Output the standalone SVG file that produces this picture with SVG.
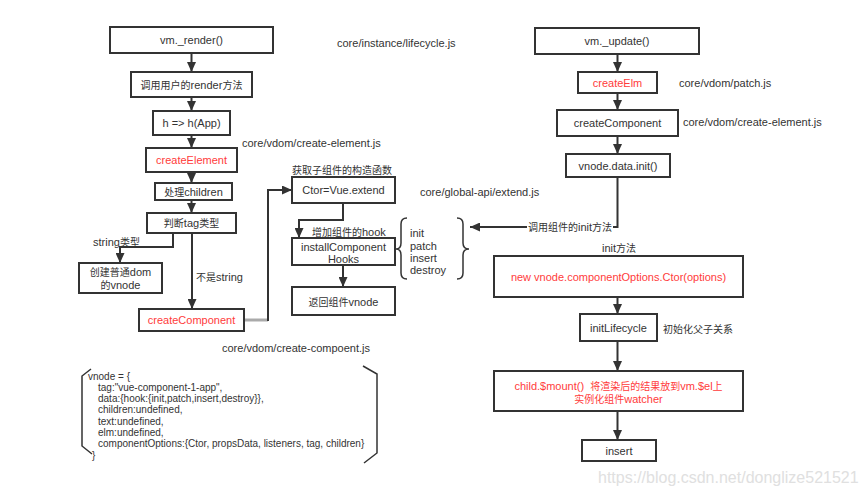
<svg xmlns="http://www.w3.org/2000/svg" width="864" height="495" viewBox="0 0 864 495">
<style>
text{font-family:"Liberation Sans","Noto Sans CJK SC",sans-serif;font-size:11px;fill:#333}
.z{font-size:10px}
.c{text-anchor:middle}
.red{fill:#ff3b3b}
.box{fill:#fff;stroke:#333;stroke-width:2}
.ln{fill:none;stroke:#333;stroke-width:2}
.br{fill:none;stroke:#333;stroke-width:1.5}
.code{font-size:10px}
.wm{font-size:16px;fill:#e0e0e0}
</style>
<defs>
<marker id="ah" markerUnits="userSpaceOnUse" markerWidth="10" markerHeight="9" refX="10" refY="4.5" orient="auto">
<path d="M0,0 L10,4.5 L0,9 z" fill="#333"/>
</marker>
</defs>
<rect width="864" height="495" fill="#fff"/>

<g id="connectors">
<path class="ln" d="M191.5,53 V72" marker-end="url(#ah)"/>
<path class="ln" d="M191.5,97 V111" marker-end="url(#ah)"/>
<path class="ln" d="M191.5,135 V148" marker-end="url(#ah)"/>
<path class="ln" d="M191.5,172 V183" marker-end="url(#ah)"/>
<path class="ln" d="M191.5,200 V213" marker-end="url(#ah)"/>
<path class="ln" d="M173,233 V247 H120 V263" marker-end="url(#ah)"/>
<path class="ln" d="M192,233 V309" marker-end="url(#ah)"/>
<path d="M244,320 H268" fill="none" stroke="#aaa" stroke-width="3"/>
<path class="ln" d="M268,321 V190 H292" marker-end="url(#ah)"/>
<path class="ln" d="M343,203 V220 H299 V238" marker-end="url(#ah)"/>
<path class="ln" d="M343,265 V287" marker-end="url(#ah)"/>
<path class="ln" d="M617.5,54 V72" marker-end="url(#ah)"/>
<path class="ln" d="M617.5,93 V110" marker-end="url(#ah)"/>
<path class="ln" d="M617.5,136 V154" marker-end="url(#ah)"/>
<path class="ln" d="M617.5,177 V227 H470" marker-end="url(#ah)"/>
<path class="ln" d="M617.5,297 V314" marker-end="url(#ah)"/>
<path class="ln" d="M617.5,341 V371" marker-end="url(#ah)"/>
<path class="ln" d="M617.5,411 V440" marker-end="url(#ah)"/>
<rect x="527" y="220" width="86" height="14" fill="#fff"/>
<text x="528" y="231"><tspan class="z">调用组件的</tspan>init<tspan class="z">方法</tspan></text>
<text x="93" y="246">string<tspan class="z">类型</tspan></text>
<text x="196" y="281"><tspan class="z">不是</tspan>string</text>
<text x="312" y="236"><tspan class="z">增加组件的</tspan>hook</text>
</g>

<g id="n-render"><rect class="box" x="110" y="27" width="163" height="26"/><text class="c" x="191.5" y="44">vm._render()</text></g>
<g id="n-userrender"><rect class="box" x="131" y="72" width="121" height="25"/><text class="c" x="191.5" y="88.5"><tspan class="z">调用用户的</tspan>render<tspan class="z">方法</tspan></text></g>
<g id="n-happ"><rect class="box" x="153" y="111" width="77" height="24"/><text class="c" x="191.5" y="127">h =&gt; h(App)</text></g>
<g id="n-createElement"><rect class="box" x="146" y="148" width="91" height="24"/><text class="c red" x="191.5" y="164">createElement</text></g>
<g id="n-children"><rect class="box" x="155" y="183" width="77" height="17"/><text class="c" x="193.5" y="195.5"><tspan class="z">处理</tspan>children</text></g>
<g id="n-tagtype"><rect class="box" x="147" y="213" width="89" height="20"/><text class="c" x="191.5" y="227"><tspan class="z">判断</tspan>tag<tspan class="z">类型</tspan></text></g>
<g id="n-dom"><rect class="box" x="79" y="263" width="83" height="30"/><text class="c" x="120.5" y="276"><tspan class="z">创建普通</tspan>dom</text><text class="c" x="120.5" y="289"><tspan class="z">的</tspan>vnode</text></g>
<g id="n-createComponentL"><rect class="box" x="139" y="309" width="105" height="22"/><text class="c red" x="191.5" y="324">createComponent</text></g>

<g id="n-ctor"><rect class="box" x="292" y="177" width="103" height="26"/><text class="c" x="343.5" y="194">Ctor=Vue.extend</text></g>
<g id="n-install"><rect class="box" x="292" y="238" width="103" height="27"/><text class="c" x="343.5" y="251">installComponent</text><text class="c" x="343.5" y="263">Hooks</text></g>
<g id="n-return"><rect class="box" x="292" y="287" width="103" height="28"/><text class="c" x="343.5" y="306"><tspan class="z">返回组件</tspan>vnode</text></g>
<g id="n-hooks">
<path class="br" d="M407,218 Q401,218 401,224 L401,243 Q401,249 396,249 Q401,249 401,255 L401,273 Q401,279 407,279"/>
<path class="br" d="M457,218 Q463,218 463,224 L463,243 Q463,249 469,249 Q463,249 463,255 L463,273 Q463,279 457,279"/>
<text x="410" y="237">init</text>
<text x="410" y="250">patch</text>
<text x="410" y="262">insert</text>
<text x="410" y="274">destroy</text>
</g>

<g id="labels">
<text x="337" y="47">core/instance/lifecycle.js</text>
<text x="242" y="147">core/vdom/create-element.js</text>
<text class="c z" x="342" y="174">获取子组件的构造函数</text>
<text x="420" y="196">core/global-api/extend.js</text>
<text x="222" y="352">core/vdom/create-compoent.js</text>
<text x="679" y="87">core/vdom/patch.js</text>
<text x="683" y="126">core/vdom/create-element.js</text>
<text x="602" y="252">init<tspan class="z">方法</tspan></text>
<text class="z" x="663" y="333">初始化父子关系</text>
</g>

<g id="n-vnode-code">
<path class="br" d="M91,369 L82,376 L82,446 L92,454"/>
<path class="br" d="M363,366 L377,374 L377,453 L364,463"/>
<text class="code" x="88" y="379.5">vnode = {</text>
<text class="code" x="98" y="390.8">tag:"vue-component-1-app",</text>
<text class="code" x="98" y="402.1">data:{hook:{init,patch,insert,destroy}},</text>
<text class="code" x="98" y="413.4">children:undefined,</text>
<text class="code" x="98" y="424.7">text:undefined,</text>
<text class="code" x="98" y="436">elm:undefined,</text>
<text class="code" x="98" y="447.3">componentOptions:{Ctor, propsData, listeners, tag, children}</text>
<text class="code" x="92" y="458.6">}</text>
</g>

<g id="n-update"><rect class="box" x="535" y="28" width="164" height="26"/><text class="c" x="617" y="45">vm._update()</text></g>
<g id="n-createElm"><rect class="box" x="578" y="72" width="79" height="21"/><text class="c red" x="617.5" y="86.5">createElm</text></g>
<g id="n-createComponentR"><rect class="box" x="557" y="110" width="121" height="26"/><text class="c" x="617.5" y="127">createComponent</text></g>
<g id="n-datainit"><rect class="box" x="566" y="154" width="104" height="23"/><text class="c" x="618" y="169.5">vnode.data.init()</text></g>
<g id="n-ctoropts"><rect class="box" x="494" y="256" width="249" height="41"/><text class="c red" x="618.5" y="281">new vnode.componentOptions.Ctor(options)</text></g>
<g id="n-initLifecycle"><rect class="box" x="580" y="314" width="77" height="27"/><text class="c" x="618.5" y="331.5">initLifecycle</text></g>
<g id="n-mount"><rect class="box" x="494" y="371" width="249" height="40"/><text class="c red" x="618.5" y="390" style="white-space:pre">child.$mount()  <tspan class="z">将渲染后的结果放到</tspan>vm.$el<tspan class="z">上</tspan></text><text class="c red" x="618.5" y="403"><tspan class="z">实例化组件</tspan>watcher</text></g>
<g id="n-insert"><rect class="box" x="582" y="440" width="74" height="21"/><text class="c" x="619" y="454.5">insert</text></g>

<text class="wm" x="598" y="483">https://blog.csdn.net/donglize521521</text>
</svg>
